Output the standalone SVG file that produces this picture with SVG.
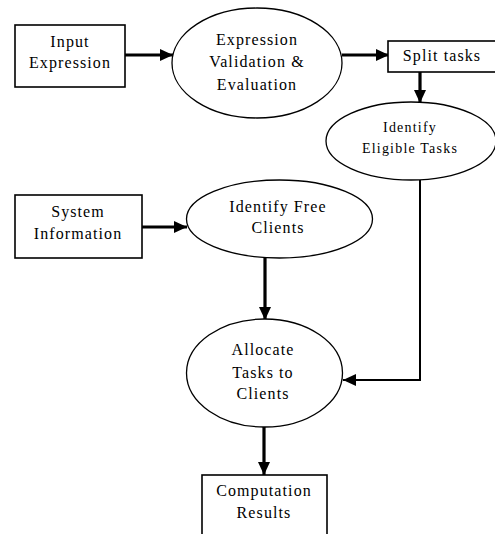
<svg xmlns="http://www.w3.org/2000/svg" width="495" height="534" viewBox="0 0 495 534">
  <style>
    .box { fill: #fff; stroke: #000; stroke-width: 1.6; }
    .oval { fill: #fff; stroke: #000; stroke-width: 1.3; }
    .lbl { font-family: "Liberation Serif", "Times New Roman", serif; font-size: 16px; letter-spacing: 1.1px; fill: #000; text-anchor: middle; }
    .sm { font-size: 14px; letter-spacing: 1.2px; }
    .link { fill: none; stroke: #000; stroke-width: 3.2; }
    .thin { stroke-width: 2; }
  </style>
  <defs>
    <marker id="arrow" markerUnits="userSpaceOnUse" markerWidth="14" markerHeight="14" viewBox="0 0 14 14" refX="13" refY="7" orient="auto">
      <path d="M0,1 L13,7 L0,13 Z" fill="#000"/>
    </marker>
  </defs>

  <rect width="495" height="534" fill="#fff"/>

  <g id="connectors">
    <line class="link" x1="125" y1="55" x2="173" y2="55" marker-end="url(#arrow)"/>
    <line class="link" x1="342" y1="55" x2="389" y2="55" marker-end="url(#arrow)"/>
    <line class="link" x1="420" y1="72" x2="420" y2="103" marker-end="url(#arrow)"/>
    <polyline class="link thin" points="420,180 420,380 343,380" marker-end="url(#arrow)"/>
    <line class="link" x1="142" y1="227" x2="187" y2="227" marker-end="url(#arrow)"/>
    <line class="link" x1="265" y1="258" x2="265" y2="320" marker-end="url(#arrow)"/>
    <line class="link" x1="264" y1="427" x2="264" y2="475" marker-end="url(#arrow)"/>
  </g>

  <g id="input-expression">
    <rect class="box" x="15" y="25" width="110" height="62"/>
    <text class="lbl" x="70" y="47">Input</text>
    <text class="lbl" x="70" y="68">Expression</text>
  </g>

  <g id="expression-validation">
    <ellipse class="oval" cx="257" cy="63" rx="85" ry="55"/>
    <text class="lbl" x="257" y="45">Expression</text>
    <text class="lbl" x="257" y="67">Validation &amp;</text>
    <text class="lbl" x="257" y="90">Evaluation</text>
  </g>

  <g id="split-tasks">
    <rect class="box" x="388" y="41" width="108" height="31"/>
    <text class="lbl" x="442" y="61">Split tasks</text>
  </g>

  <g id="identify-eligible">
    <ellipse class="oval" cx="411" cy="141" rx="85" ry="39"/>
    <text class="lbl sm" x="410" y="132">Identify</text>
    <text class="lbl sm" x="410" y="153">Eligible Tasks</text>
  </g>

  <g id="system-information">
    <rect class="box" x="15" y="195" width="127" height="63"/>
    <text class="lbl" x="78" y="217">System</text>
    <text class="lbl" x="78" y="239">Information</text>
  </g>

  <g id="identify-free-clients">
    <ellipse class="oval" cx="279.5" cy="219" rx="93" ry="39"/>
    <text class="lbl" x="278" y="212">Identify Free</text>
    <text class="lbl" x="278" y="233">Clients</text>
  </g>

  <g id="allocate-tasks">
    <ellipse class="oval" cx="264.5" cy="373" rx="78" ry="54"/>
    <text class="lbl" x="263" y="355">Allocate</text>
    <text class="lbl" x="263" y="378">Tasks to</text>
    <text class="lbl" x="263" y="399">Clients</text>
  </g>

  <g id="computation-results">
    <rect class="box" x="202" y="475" width="125" height="70"/>
    <text class="lbl" x="264" y="496">Computation</text>
    <text class="lbl" x="264" y="518">Results</text>
  </g>
</svg>
